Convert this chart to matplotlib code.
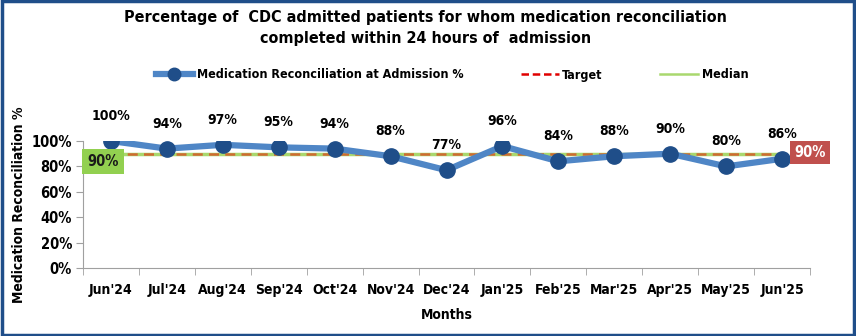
import matplotlib.pyplot as plt
from matplotlib.lines import Line2D
from matplotlib.patches import Rectangle

months = ["Jun'24", "Jul'24", "Aug'24", "Sep'24", "Oct'24", "Nov'24", "Dec'24",
          "Jan'25", "Feb'25", "Mar'25", "Apr'25", "May'25", "Jun'25"]
med_rec = [100, 94, 97, 95, 94, 88, 77, 96, 84, 88, 90, 80, 86]
target = [90] * len(months)
median = [90] * len(months)

plt.rcParams['font.family'] = ['DejaVu Sans']
plt.rcParams['font.stretch'] = 'condensed'
plt.rcParams['font.weight'] = 'bold'

fig = plt.figure(figsize=(8.56, 3.36), dpi=100)
ax = fig.add_axes([83 / 856, 1 - 268 / 336, 727 / 856, 127 / 336])

x = list(range(len(months)))
ax.plot(x, median, color='#a9d86e', linewidth=2.5, zorder=2)
ax.plot(x, target, color='#cf6a32', linewidth=1.8, linestyle=(0, (4, 2.5)), zorder=3)
ax.plot(x, med_rec, color='#4f86c6', linewidth=4.5, marker='o',
        markersize=11, markerfacecolor='#1f4e89', markeredgecolor='#1f4e89', zorder=4)

for xi, v in zip(x, med_rec):
    ax.annotate(f'{v}%', (xi, v), xytext=(0, 13), textcoords='offset points',
                ha='center', va='bottom', fontsize=10, fontweight='bold')

ax.set_xlim(-0.5, len(months) - 0.5)
ax.set_ylim(0, 100)
ax.set_yticks(range(0, 101, 20))
ax.set_yticklabels([f'{t}%' for t in range(0, 101, 20)], fontsize=10.5, fontweight='bold')
ax.set_xticks(x)
ax.set_xticklabels(months, fontsize=10, fontweight='bold')
ax.set_xticks([i + 0.5 for i in range(-1, len(months))], minor=True)
ax.tick_params(axis='x', which='major', length=0, pad=11)
ax.tick_params(axis='x', which='minor', length=5, color='#a0a0a0')
ax.tick_params(axis='y', length=5, color='#a0a0a0', pad=3)
for side in ['top', 'right']:
    ax.spines[side].set_visible(False)
for side in ['left', 'bottom']:
    ax.spines[side].set_color('#a0a0a0')

ax.set_ylabel('Medication Reconciliation %', fontsize=10, fontweight='bold', labelpad=4)
ax.set_xlabel('Months', fontsize=10, fontweight='bold', labelpad=8)

# value boxes for median (left) and target (right)
ax.text(-0.14, 84, '90%', ha='center', va='center', fontsize=10.5, fontweight='bold',
        color='#1a1a1a', bbox=dict(boxstyle='square,pad=0.35', facecolor='#92d050', edgecolor='none'),
        clip_on=False, zorder=5)
ax.text(12.5, 91, '90%', ha='center', va='center', fontsize=10.5, fontweight='bold',
        color='white', bbox=dict(boxstyle='square,pad=0.3', facecolor='#c0504d', edgecolor='none'),
        clip_on=False, zorder=5)

handles = [
    Line2D([], [], color='#4f86c6', linewidth=4.5, marker='o', markersize=9,
           markerfacecolor='#1f4e89', markeredgecolor='#1f4e89'),
    Line2D([], [], color='#e00000', linewidth=1.8, linestyle=(0, (3, 1.5))),
    Line2D([], [], color='#a9d86e', linewidth=1.8),
]
labels = ['Medication Reconciliation at Admission %', 'Target', 'Median']
fig.legend(handles, labels, loc='center', bbox_to_anchor=(0.528, 1 - 75 / 336), ncol=3,
           frameon=False, fontsize=9, handlelength=3.0, handletextpad=0.3, columnspacing=4.6)

fig.text(0.497, 1 - 28 / 336,
         'Percentage of  CDC admitted patients for whom medication reconciliation\ncompleted within 24 hours of  admission',
         ha='center', va='center', fontsize=11.5, fontweight='bold', linespacing=1.5)

fig.patches.append(Rectangle((0.002, 0.004), 0.996, 0.992, transform=fig.transFigure,
                             fill=False, edgecolor='#1f4e89', linewidth=2.5))

fig.savefig('out.png', dpi=100)
